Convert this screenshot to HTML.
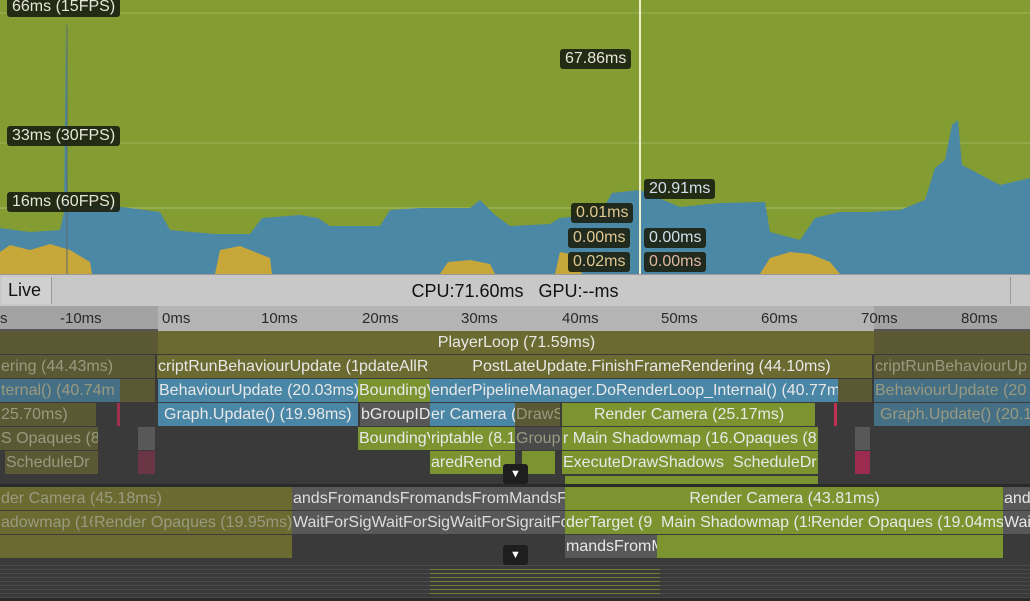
<!DOCTYPE html>
<html><head><style>
*{margin:0;padding:0;box-sizing:border-box}
body{width:1030px;height:601px;overflow:hidden;background:#3a3a3a;font-family:"Liberation Sans",sans-serif;position:relative}
.a{position:absolute}
.lab{position:absolute;background:rgba(28,34,18,0.92);color:#e6e6d8;font-size:16px;line-height:20px;padding:0 5px;border-radius:3px;white-space:nowrap}
.b{position:absolute;height:23px;font-size:16px;line-height:23px;color:#e8e8e8;white-space:nowrap;overflow:hidden;padding-left:1px}
.d{color:#9a9a80}
.g{background:#7b9430}.o{background:#6b6a30}.do{background:#5a5934}.bl{background:#4a86a6}.db{background:#456f84}.gr{background:#585858}.dg{background:#4a4a4a}
.c{text-align:center}
.tick{position:absolute;font-size:15px;color:#2a2a2a;top:310px}
</style></head><body>
<svg class="a" style="left:0;top:0" width="1030" height="275">
<rect width="1030" height="275" fill="#839d33"/>
<line x1="0" y1="13" x2="1030" y2="13" stroke="#9cb35a" stroke-width="1"/>
<line x1="0" y1="143" x2="1030" y2="143" stroke="#9cb35a" stroke-width="1"/>
<line x1="0" y1="208" x2="1030" y2="208" stroke="#a9bf70" stroke-width="1"/>
<polygon fill="#4b88a6" points="0,274 0,228 30,232 60,230 64,212 66,30 68,212 100,205 130,208 160,212 170,230 215,234 250,234 262,218 300,215 318,218 330,226 380,226 390,210 420,208 470,208 480,200 495,215 510,226 550,224 560,218 600,214 612,193 640,190 680,207 720,203 765,202 770,232 800,240 815,218 840,212 870,212 900,210 925,200 935,168 945,160 952,125 958,120 962,165 1000,185 1030,178 1030,274"/>
<polygon fill="#c7a63a" points="0,274 0,252 10,245 30,250 50,244 70,250 90,262 92,274"/>
<polygon fill="#c7a63a" points="215,274 220,250 240,246 255,252 270,258 272,274"/>
<polygon fill="#c7a63a" points="440,274 448,262 470,260 490,264 495,274"/>
<polygon fill="#c7a63a" points="555,274 560,252 575,255 582,274"/>
<polygon fill="#c7a63a" points="760,274 770,258 790,252 810,254 830,262 840,274"/>
<line x1="67" y1="25" x2="67" y2="274" stroke="#5a6a70" stroke-width="1"/>
<line x1="640" y1="0" x2="640" y2="274" stroke="#f0f0c8" stroke-width="2"/>
</svg>
<div class="lab" style="left:7px;top:-3px">66ms (15FPS)</div>
<div class="lab" style="left:7px;top:126px">33ms (30FPS)</div>
<div class="lab" style="left:7px;top:192px">16ms (60FPS)</div>
<div class="lab" style="left:560px;top:49px">67.86ms</div>
<div class="lab" style="left:644px;top:179px;color:#cfe0ea">20.91ms</div>
<div class="lab" style="left:571px;top:203px;color:#e0c890">0.01ms</div>
<div class="lab" style="left:568px;top:228px;color:#e0c890">0.00ms</div>
<div class="lab" style="left:644px;top:228px;color:#cfe0ea">0.00ms</div>
<div class="lab" style="left:568px;top:252px;color:#e0c890">0.02ms</div>
<div class="lab" style="left:644px;top:252px;color:#e0b8a0">0.00ms</div>
<!-- status bar -->
<div class="a" style="left:0;top:274px;width:1030px;height:32px;background:#c8c8c8;border-top:1px solid #999"></div>
<div class="a" style="left:2px;top:277px;width:50px;height:27px;background:#d0d0d0;border-right:1px solid #999;font-size:18px;line-height:27px;padding-left:6px;color:#111">Live</div>
<div class="a" style="left:0;top:278px;width:1030px;text-align:center;font-size:18px;line-height:26px;color:#111">CPU:71.60ms &nbsp; GPU:--ms</div>
<div class="a" style="left:1010px;top:277px;width:20px;height:27px;border-left:1px solid #999"></div>
<!-- ruler -->
<div class="a" style="left:0;top:306px;width:1030px;height:25px;background:#a3a3a3;border-bottom:2px solid #555"></div>
<div class="a" style="left:158px;top:306px;width:716px;height:25px;background:#b4b4b4"></div>
<div class="tick" style="left:0">s</div>
<div class="tick" style="left:60px">-10ms</div>
<div class="tick" style="left:162px">0ms</div>
<div class="tick" style="left:261px">10ms</div>
<div class="tick" style="left:362px">20ms</div>
<div class="tick" style="left:461px">30ms</div>
<div class="tick" style="left:562px">40ms</div>
<div class="tick" style="left:661px">50ms</div>
<div class="tick" style="left:761px">60ms</div>
<div class="tick" style="left:861px">70ms</div>
<div class="tick" style="left:961px">80ms</div>
<!-- main thread -->
<div class="b do" style="left:0;top:331px;width:158px"></div>
<div class="b o c" style="left:158px;top:331px;width:716px">PlayerLoop (71.59ms)</div>
<div class="b do" style="left:874px;top:331px;width:156px"></div>
<div class="b do d" style="left:0;top:355px;width:155px">ering (44.43ms)</div>
<div class="b o" style="left:157px;top:355px;width:201px">criptRunBehaviourUpdate (1</div>
<div class="b o" style="left:358px;top:355px;width:72px">pdateAllR</div>
<div class="b o c" style="left:430px;top:355px;width:442px">PostLateUpdate.FinishFrameRendering (44.10ms)</div>
<div class="b do d" style="left:874px;top:355px;width:156px">criptRunBehaviourUp</div>
<div class="b db d" style="left:0;top:379px;width:120px">ternal() (40.74m</div>
<div class="b do" style="left:120px;top:379px;width:35px"></div>
<div class="b bl" style="left:158px;top:379px;width:200px">BehaviourUpdate (20.03ms)</div>
<div class="b g" style="left:358px;top:379px;width:72px">BoundingV</div>
<div class="b bl" style="left:430px;top:379px;width:408px">enderPipelineManager.DoRenderLoop_Internal() (40.77m</div>
<div class="b do" style="left:838px;top:379px;width:34px"></div>
<div class="b db d" style="left:874px;top:379px;width:156px">BehaviourUpdate (20</div>
<div class="b do d" style="left:0;top:403px;width:96px">25.70ms)</div>
<div class="b" style="left:117px;top:403px;width:3px;background:#a03050"></div>
<div class="b bl" style="left:158px;top:403px;width:200px;padding-left:6px">Graph.Update() (19.98ms)</div>
<div class="b gr" style="left:360px;top:403px;width:70px">bGroupID</div>
<div class="b bl" style="left:430px;top:403px;width:85px">er Camera (</div>
<div class="b do d" style="left:515px;top:403px;width:45px">DrawS</div>
<div class="b g c" style="left:562px;top:403px;width:253px">Render Camera (25.17ms)</div>
<div class="b" style="left:834px;top:403px;width:3px;background:#c03050"></div>
<div class="b db d" style="left:874px;top:403px;width:156px;padding-left:6px">Graph.Update() (20.1</div>
<div class="b do d" style="left:0;top:427px;width:98px">S Opaques (8</div>
<div class="b gr" style="left:138px;top:427px;width:17px"></div>
<div class="b g" style="left:358px;top:427px;width:72px">BoundingV</div>
<div class="b g" style="left:430px;top:427px;width:85px">riptable (8.1</div>
<div class="b dg d" style="left:515px;top:427px;width:47px">Group</div>
<div class="b g" style="left:562px;top:427px;width:170px">r Main Shadowmap (16.</div>
<div class="b g" style="left:732px;top:427px;width:86px">Opaques (8</div>
<div class="b gr" style="left:855px;top:427px;width:15px"></div>
<div class="b do d" style="left:5px;top:451px;width:93px">ScheduleDr</div>
<div class="b" style="left:138px;top:451px;width:17px;background:#6a3545"></div>
<div class="b g" style="left:430px;top:451px;width:85px">aredRend</div>
<div class="b g" style="left:522px;top:451px;width:33px"></div>
<div class="b g" style="left:562px;top:451px;width:170px">ExecuteDrawShadows</div>
<div class="b g" style="left:732px;top:451px;width:86px">ScheduleDr</div>
<div class="b" style="left:855px;top:451px;width:15px;background:#9b2c50"></div>
<div class="b g" style="left:565px;top:476px;width:253px;height:8px"></div>
<div class="a" style="left:0;top:484px;width:1030px;height:3px;background:#2a2a2a"></div>
<div class="a" style="left:503px;top:464px;width:25px;height:20px;background:#1e1e1e;border-radius:3px;color:#fff;font-size:11px;text-align:center;line-height:20px">▼</div>
<!-- render thread -->
<div class="b o d" style="left:0;top:487px;width:292px">der Camera (45.18ms)</div>
<div class="b gr" style="left:292px;top:487px;width:273px;color:#ddd">andsFromandsFromandsFromMandsFro</div>
<div class="b g c" style="left:565px;top:487px;width:438px">Render Camera (43.81ms)</div>
<div class="b gr" style="left:1003px;top:487px;width:27px">and</div>
<div class="b o d" style="left:0;top:511px;width:93px">adowmap (16</div>
<div class="b o d" style="left:93px;top:511px;width:199px">Render Opaques (19.95ms)</div>
<div class="b gr" style="left:292px;top:511px;width:273px;color:#ddd">WaitForSigWaitForSigWaitForSigraitForS</div>
<div class="b g" style="left:565px;top:511px;width:95px">derTarget (9</div>
<div class="b g" style="left:660px;top:511px;width:150px">Main Shadowmap (15</div>
<div class="b g" style="left:810px;top:511px;width:193px">Render Opaques (19.04ms)</div>
<div class="b gr" style="left:1003px;top:511px;width:27px">Wait</div>
<div class="b o" style="left:0;top:535px;width:292px"></div>
<div class="b gr" style="left:565px;top:535px;width:92px">mandsFromM</div>
<div class="b g" style="left:657px;top:535px;width:346px"></div>
<div class="a" style="left:0;top:562px;width:1030px;height:39px;background:repeating-linear-gradient(#3a3a3a 0 3px,#4a4a4a 3px 4px)"></div>
<div class="a" style="left:0;top:598px;width:1030px;height:3px;background:#2a2a2a"></div>
<div class="a" style="left:430px;top:566px;width:230px;height:30px;background:repeating-linear-gradient(transparent 0 3px,#7b8a30 3px 4px);opacity:.8"></div>
<div class="a" style="left:503px;top:545px;width:25px;height:20px;background:#1e1e1e;border-radius:3px;color:#fff;font-size:11px;text-align:center;line-height:20px">▼</div>
</body></html>
